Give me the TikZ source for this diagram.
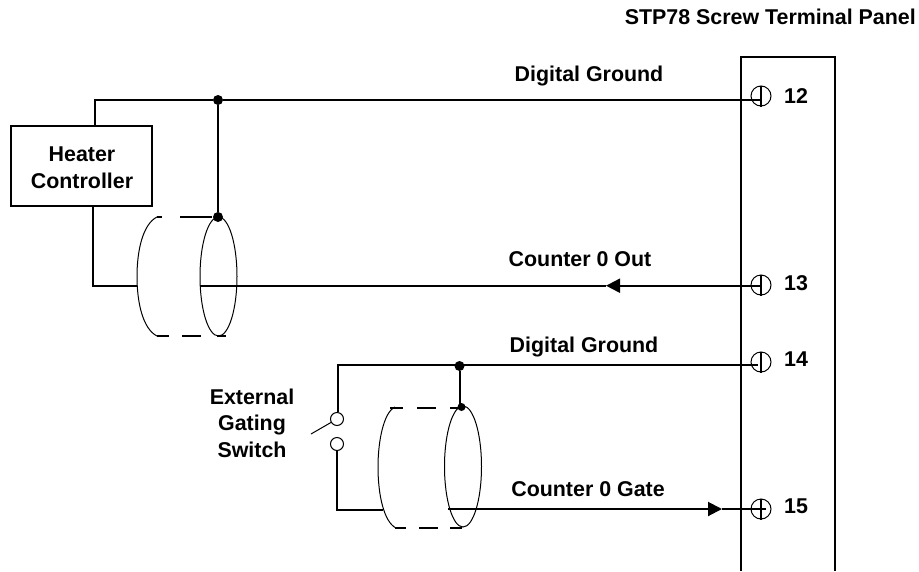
\documentclass[tikz,border=0pt]{standalone}
\usepackage{fontspec}
\setmainfont{Liberation Sans}
\usetikzlibrary{arrows.meta,shapes.geometric}
\tikzset{
    wire/.style={line width=2pt},
    thin wire/.style={line width=1pt},
    label text/.style={font=\fontsize{21.4}{26.5}\selectfont\bfseries,align=center,inner sep=0pt},
    joint/.style={circle,fill=black,inner sep=0pt,minimum size=10pt},
    terminal/.style={circle,draw=black,thin wire,inner sep=0pt,minimum size=20pt},
    contact/.style={circle,draw=black,thin wire,inner sep=0pt,minimum size=13pt},
    shield/.style={ellipse,draw=black,thin wire,inner sep=0pt,minimum width=37pt},
    arrowtip/.style={-{Triangle[length=14pt,width=14pt]}}
}
\begin{document}
\begin{tikzpicture}[x=1pt,y=-1pt]
            \useasboundingbox (0,0) rectangle (919,571);
            \draw[wire] (741,571) -- (741,56.5) -- (835,56.5) -- (835,571);
            \node[label text,anchor=east] (title) at (916,17) {STP78 Screw Terminal Panel};

            \node[terminal] (12) at (761,96){};
            \node[terminal] (13) at (761,285){};
            \node[terminal] (14) at (761,362){};
            \node[terminal] (15) at (761,509){};
            \node[label text] (n12) at (796,96) {12};
            \node[label text] (n13) at (796,283) {13};
            \node[label text] (n14) at (796,359) {14};
            \node[label text] (n15) at (796,506) {15};
            \draw[line width=1.5pt] (12.north) -- (12.south);
            \draw[line width=1.5pt] (13.north) -- (13.south);
            \draw[line width=1.5pt] (14.north) -- (14.south);
            \draw[line width=1.5pt] (15.north) -- (15.south);

            \node[draw=black,wire,minimum width=141pt,minimum height=80pt,inner sep=0pt] (heater) at (81.5,166){};
            \node[label text] (heatertext) at (82,167.5) {Heater\\Controller};
            \node[shield,minimum height=119pt] (shield0) at (218.5,276.5){};
            \node[joint] (top0) at (218,100){};
            \node[joint] (bot0) at (218,217){};
            \coordinate (end12) at (761,100);
            \coordinate (corner0) at (95,100);
            \coordinate (corner1) at (93,285.7);
            \coordinate (lead0) at (137,285.7);
            \coordinate (cable0) at (200,285.7);
            \coordinate (end13) at (761,285.7);
            \coordinate (tip0) at (606,285.7);
            \draw[wire] (heater.north -| corner0) -- (corner0) -- (top0) -- (end12);
            \draw[wire] (top0) -- (bot0);
            \draw[wire] (heater.south -| corner1) -- (corner1) -- (lead0);
            \draw[wire] (cable0) -- (tip0);
            \draw[wire,arrowtip] (end13) -- (tip0);
            \draw[thin wire] (157,217) .. controls (143,224) and (137,250) .. (137,276.5) .. controls (137,303) and (143,329) .. (157,336);
            \draw[wire] (157,217) -- (162,217) (180,217) -- (212,217);
            \draw[wire] (157,336) -- (169,336) (182,336) -- (201,336) (217,336) -- (226,336);
            \node[label text] (ground0) at (589,76) {Digital Ground};
            \node[label text] (out0) at (580,259) {Counter 0 Out};

            \node[contact] (upper) at (337,419){};
            \node[contact] (lower) at (337,444){};
            \node[shield,minimum height=121pt] (shield1) at (463,466.5){};
            \node[joint] (top1) at (459.5,366){};
            \node[joint,minimum size=8pt] (bot1) at (461.5,407){};
            \coordinate (corner2) at (338,365);
            \coordinate (end14) at (758,365);
            \coordinate (corner3) at (337,510);
            \coordinate (lead1) at (383,510);
            \coordinate (cable1) at (448,509);
            \coordinate (tip1) at (722,509);
            \coordinate (end15) at (766,509);
            \coordinate (armend) at (311,434);
            \draw[wire] (upper.north -| corner2) -- (corner2) -- (end14);
            \draw[wire] (top1) -- (top1 |- bot1);
            \draw[wire] (lower.south) -- (corner3) -- (lead1);
            \draw[wire,arrowtip] (cable1) -- (tip1);
            \draw[wire] (tip1) -- (end15);
            \draw[thin wire] (armend) -- (upper);
            \draw[thin wire] (395,407) .. controls (384,412) and (378,440) .. (378,467) .. controls (378,495) and (384,522) .. (396,528);
            \draw[wire] (390,408) -- (403,408) (417,408) -- (436,408) (450,408) -- (462,408);
            \draw[wire] (395,528) -- (406,528) (419,528) -- (438,528) (450,528) -- (462,528);
            \node[label text] (ground1) at (584,347) {Digital Ground};
            \node[label text] (gate0) at (588,489) {Counter 0 Gate};
            \node[label text] (switch0) at (252,423) {External\\Gating\\Switch};
        \end{tikzpicture}
\end{document}
